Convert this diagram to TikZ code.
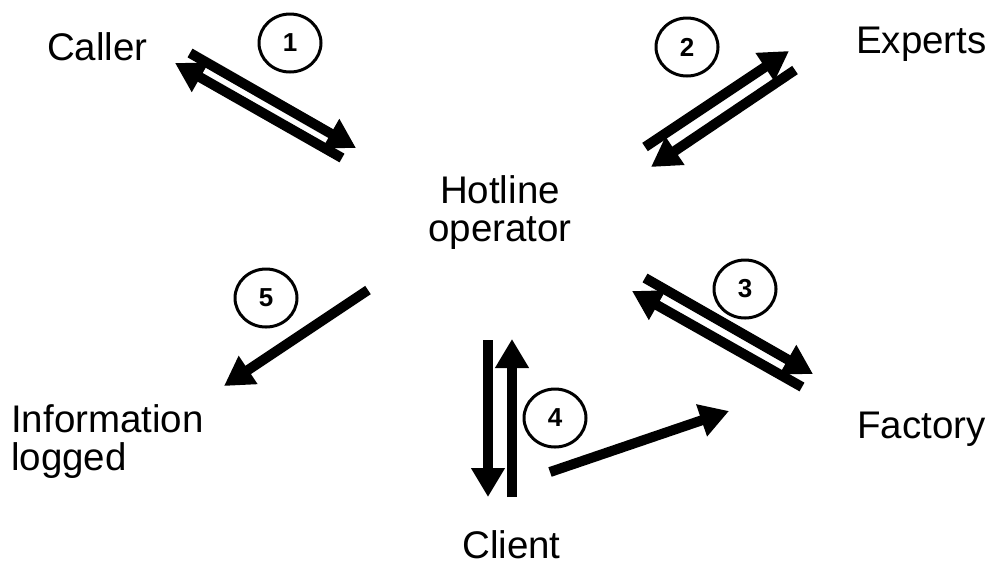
\documentclass[tikz,border=0pt]{standalone}
\usepackage{fontspec}
\setmainfont{Liberation Sans}
\usetikzlibrary{arrows.meta,shapes.geometric}

\tikzset{
  label/.style={inner sep=0pt, font=\fontsize{38.5}{38}\selectfont},
  flow/.style={line width=10pt, -{Triangle[length=29pt,width=32pt]}},
  numcirc/.style={ellipse, draw, line width=3pt, minimum width=62pt,
    minimum height=58pt, inner sep=0pt,
    font=\fontsize{26}{26}\selectfont\bfseries},
}

\begin{document}
\begin{tikzpicture}[x=1pt, y=-1pt]
  \useasboundingbox (0,0) rectangle (992,566);

  % actors (multi-line nodes sit on the baseline of their last line)
  \node[label, anchor=base west] (caller) at (47,60) {Caller};
  \node[label, anchor=base west] (experts) at (856,53) {Experts};
  \node[label, anchor=base, align=center] (hotline) at (500,241) {Hotline\\operator};
  \node[label, anchor=base west, align=left] (info) at (11,470) {Information\\logged};
  \node[label, anchor=base west] (factory) at (857,438) {Factory};
  \node[label, anchor=base west] (client) at (462,558) {Client};

  % step numbers
  \node[numcirc] (n1) at (290,43) {1};
  \node[numcirc] (n2) at (687,47) {2};
  \node[numcirc] (n3) at (745,289) {3};
  \node[numcirc] (n4) at (555,418) {4};
  \node[numcirc] (n5) at (266,298) {5};

  % arrow end points
  \coordinate (a1s) at (190,53);  \coordinate (a1t) at (356,148);
  \coordinate (b1s) at (342,158); \coordinate (b1t) at (175,63);
  \coordinate (a2s) at (645,147); \coordinate (a2t) at (789,51);
  \coordinate (b2s) at (795,70);  \coordinate (b2t) at (651,167);
  \coordinate (a3s) at (645,278); \coordinate (a3t) at (813,374);
  \coordinate (b3s) at (802,387); \coordinate (b3t) at (632,291);
  \coordinate (a4s) at (488,340); \coordinate (a4t) at (488,497);
  \coordinate (b4s) at (512,497); \coordinate (b4t) at (512,339);
  \coordinate (c4s) at (550,472); \coordinate (c4t) at (729,411);
  \coordinate (a5s) at (368,290); \coordinate (a5t) at (224,386);

  % 1: caller <-> hotline
  \draw[flow] (a1s) -- (a1t);
  \draw[flow] (b1s) -- (b1t);
  % 2: hotline <-> experts
  \draw[flow] (a2s) -- (a2t);
  \draw[flow] (b2s) -- (b2t);
  % 3: hotline <-> factory
  \draw[flow] (a3s) -- (a3t);
  \draw[flow] (b3s) -- (b3t);
  % 4: hotline <-> client, client -> factory
  \draw[flow] (a4s) -- (a4t);
  \draw[flow] (b4s) -- (b4t);
  \draw[flow] (c4s) -- (c4t);
  % 5: hotline -> log
  \draw[flow] (a5s) -- (a5t);
\end{tikzpicture}
\end{document}
